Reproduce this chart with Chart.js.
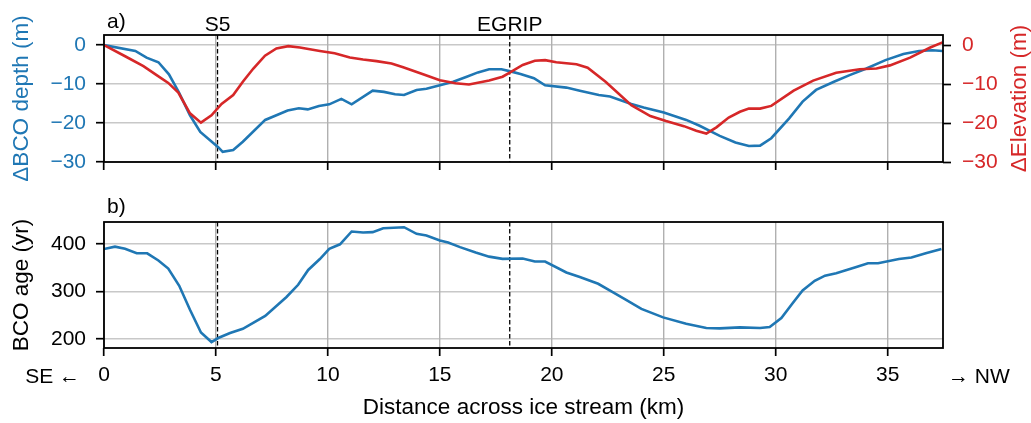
<!DOCTYPE html>
<html lang="en">
<head>
  <meta charset="UTF-8" />
  <title>BCO depth and age across the ice stream</title>
  <script src="https://cdn.jsdelivr.net/npm/chart.js"></script>
  <style>
    body {
      margin: 0;
      background: #fff;
    }
    .wrap {
      position: relative;
      width: 1031px;
      height: 423px;
    }
    canvas {
      position: absolute;
      left: 0;
    }
    #topChart { top: 0; }
    #bottomChart { top: 180px; }
  </style>
</head>
<body>
  <div class="wrap">
    <canvas id="topChart" width="1031" height="200"></canvas>
    <canvas id="bottomChart" width="1031" height="243"></canvas>
  </div>

  <script>
    // panel a) change in BCO depth (blue, left axis) and surface elevation (red, right axis)
    const depthKm = [0, 1.4, 1.9, 2.43, 2.9, 3.35, 3.84, 4.3, 5.1, 5.3, 5.77, 6.2, 7.2, 7.7, 8.2, 8.7, 9.1, 9.6, 10.06, 10.6, 11.06, 12.0, 12.5, 13.0, 13.4, 13.96, 14.4, 15.0, 15.6, 16.2, 16.7, 17.2, 17.75, 18.2, 18.6, 19.2, 19.7, 20.65, 21.25, 22.1, 22.6, 23.55, 24.1, 25.0, 26.0, 26.6, 27.5, 28.2, 28.8, 29.3, 29.8, 30.6, 31.2, 31.8, 32.6, 33.3, 34.05, 34.9, 35.7, 36.4, 37.0, 37.45];
    const dBcoDepth = [0, -1.5, -3.2, -4.4, -7.5, -12.2, -18, -22.3, -26.2, -27.4, -26.9, -24.8, -19.2, -18, -16.8, -16.2, -16.5, -15.6, -15.2, -13.8, -15.2, -11.7, -12, -12.6, -12.8, -11.5, -11.2, -10.3, -9.4, -8.1, -7, -6.2, -6.2, -6.8, -7.4, -8.5, -10.3, -10.9, -11.7, -12.8, -13.2, -15.1, -16, -17.3, -19.2, -20.7, -23.3, -25, -25.9, -25.8, -23.9, -18.8, -14.5, -11.5, -9.4, -7.7, -6, -3.85, -2.3, -1.5, -1.3, -1.5];

    const elevKm = [0, 0.86, 1.76, 2.35, 2.87, 3.32, 3.84, 4.33, 4.8, 5.25, 5.77, 6.2, 6.67, 7.19, 7.7, 8.23, 8.75, 9.64, 10.3, 10.98, 11.57, 12.17, 12.84, 13.36, 14.25, 15.0, 15.7, 16.3, 17.2, 17.8, 18.1, 18.7, 19.24, 19.7, 20.2, 21.1, 21.6, 22.4, 23.55, 24.4, 25.1, 25.9, 26.45, 26.9, 27.35, 27.9, 28.4, 28.8, 29.3, 29.8, 30.8, 31.67, 32.7, 33.75, 34.5, 35.1, 36.0, 36.9, 37.45];
    const dElevation = [0, -2.6, -5.4, -7.7, -9.7, -12.2, -17.5, -19.9, -18, -15.1, -12.8, -9.4, -6, -2.7, -0.85, -0.26, -0.6, -1.5, -2.1, -3.2, -3.7, -4.1, -4.7, -5.7, -7.5, -9, -9.8, -10.1, -9.1, -8.1, -7.1, -5.1, -4, -3.85, -4.4, -4.9, -5.8, -9.4, -15.4, -18.2, -19.5, -20.8, -22, -22.7, -21.1, -18.6, -17.1, -16.3, -16.3, -15.6, -11.7, -9.1, -7.1, -6.2, -6, -5.2, -3.2, -0.6, 0.7];

    // panel b) BCO age
    const ageKm = [0, 0.49, 0.94, 1.46, 1.93, 2.43, 2.87, 3.36, 3.84, 4.33, 4.8, 5.1, 5.63, 6.2, 7.2, 8.15, 8.67, 9.12, 9.64, 10.06, 10.54, 11.06, 11.57, 12.0, 12.47, 13.4, 13.96, 14.4, 15.0, 15.37, 15.9, 16.6, 17.2, 17.8, 18.7, 19.24, 19.7, 20.65, 21.25, 22.07, 22.66, 23.26, 24.0, 24.97, 26.0, 26.9, 27.5, 28.4, 29.3, 29.73, 30.25, 30.77, 31.2, 31.74, 32.2, 32.7, 33.6, 34.12, 34.57, 35.5, 36.06, 36.7, 37.4];
    const bcoAge = [389, 394, 389.5, 380, 380, 365, 348, 311.6, 261, 213, 193, 201.5, 212, 221, 248, 288, 313.7, 345, 368, 389.5, 399, 426, 424, 424.6, 433, 435, 421, 417.5, 407, 402.8, 393, 381.8, 373, 368.4, 369, 362.7, 362.7, 339.6, 330, 315.8, 299.6, 283.6, 263, 245, 231.6, 222.5, 221.8, 224, 222.5, 224.6, 243.5, 276, 301.7, 322, 333, 338, 351, 359, 359, 368, 371, 380, 389];

    // drill sites marked with dashed lines
    const siteNames = ['S5', 'EGRIP'];
    const siteKm = [5.07, 18.12];

    const BLUE = '#1f77b4';
    const RED = '#d62728';
    const FONT = '"Liberation Sans", Arial, sans-serif';
    const LABEL_SIZE = 22.5;

    Chart.defaults.font.family = FONT;
    Chart.defaults.font.size = 21;
    Chart.defaults.color = '#000';

    const pts = (xs, ys) => xs.map((x, i) => ({ x, y: ys[i] }));
    const minus = v => String(v).replace('-', '\u2212');

    function xAxis(showLabels, height) {
      return {
        type: 'linear',
        min: 0,
        max: 37.47,
        ticks: { stepSize: 5, includeBounds: false, display: showLabels, padding: 7, maxRotation: 0, autoSkip: false },
        grid: { color: '#b0b0b0', lineWidth: 1.4, tickColor: '#000', tickWidth: 1.7, tickLength: 8 },
        border: { display: false },
        afterFit: s => { s.height = height; }
      };
    }

    function dashedSites(chart) {
      const { ctx, chartArea: a, scales: { x } } = chart;
      ctx.save();
      ctx.strokeStyle = '#000';
      ctx.lineWidth = 1.3;
      ctx.setLineDash([4.5, 2.5]);
      siteKm.forEach(k => {
        const px = x.getPixelForValue(k);
        ctx.beginPath();
        ctx.moveTo(px, a.top);
        ctx.lineTo(px, a.bottom);
        ctx.stroke();
      });
      ctx.restore();
    }

    function frame(chart) {
      const { ctx, chartArea: a } = chart;
      ctx.save();
      ctx.strokeStyle = '#000';
      ctx.lineWidth = 1.8;
      ctx.strokeRect(a.left, a.top, a.right - a.left, a.bottom - a.top);
      ctx.restore();
    }

    const topDecor = {
      id: 'topDecor',
      beforeDatasetsDraw: dashedSites,
      afterDraw(chart) {
        frame(chart);
        const { ctx, chartArea: a, scales: { x } } = chart;
        ctx.save();
        ctx.font = '21px ' + FONT;
        ctx.fillStyle = '#000';
        ctx.textAlign = 'left';
        ctx.fillText('a)', a.left + 3, 28);
        ctx.textAlign = 'center';
        siteNames.forEach((n, i) => ctx.fillText(n, x.getPixelForValue(siteKm[i]), 31));
        // right axis label reads bottom to top
        ctx.font = LABEL_SIZE + 'px ' + FONT;
        ctx.fillStyle = RED;
        ctx.textBaseline = 'middle';
        ctx.translate(1020, (a.top + a.bottom) / 2);
        ctx.rotate(-Math.PI / 2);
        ctx.fillText('\u0394Elevation (m)', 0, 0);
        ctx.restore();
      }
    };

    const bottomDecor = {
      id: 'bottomDecor',
      beforeDatasetsDraw: dashedSites,
      afterDraw(chart) {
        frame(chart);
        const { ctx, chartArea: a } = chart;
        ctx.save();
        ctx.font = '21px ' + FONT;
        ctx.fillStyle = '#000';
        ctx.textAlign = 'left';
        ctx.fillText('b)', a.left + 3, 33);
        ctx.textAlign = 'right';
        ctx.fillText('SE \u2190', 80, 203);
        ctx.textAlign = 'left';
        ctx.fillText('\u2192 NW', 948, 203);
        ctx.restore();
      }
    };

    new Chart(document.getElementById('topChart'), {
      type: 'line',
      data: {
        datasets: [
          {
            label: '\u0394Elevation',
            data: pts(elevKm, dElevation),
            yAxisID: 'yR',
            borderColor: RED,
            borderWidth: 2.6,
            pointRadius: 0,
            order: 0
          },
          {
            label: '\u0394BCO depth',
            data: pts(depthKm, dBcoDepth),
            yAxisID: 'y',
            borderColor: BLUE,
            borderWidth: 2.6,
            pointRadius: 0,
            order: 1
          }
        ]
      },
      options: {
        responsive: false,
        animation: false,
        layout: { padding: { top: 35, left: 0, right: 0, bottom: 0 } },
        plugins: { legend: { display: false }, tooltip: { enabled: false } },
        scales: {
          x: xAxis(false, 38),
          y: {
            position: 'left',
            min: -30,
            max: 2.6,
            ticks: { stepSize: 10, includeBounds: false, color: BLUE, padding: 10, callback: minus },
            grid: { color: 'rgba(176,176,176,0.7)', lineWidth: 1.4, tickColor: '#000', tickWidth: 1.7, tickLength: 8 },
            border: { display: false },
            title: { display: true, text: '\u0394BCO depth (m)', color: BLUE, font: { size: LABEL_SIZE }, padding: { top: 8.5, bottom: 0 } },
            afterFit: s => { s.width = 104; }
          },
          yR: {
            position: 'right',
            min: -30,
            max: 2.6,
            ticks: { stepSize: 10, includeBounds: false, color: RED, padding: 11, callback: minus },
            grid: { drawOnChartArea: false, tickColor: '#000', tickWidth: 1.7, tickLength: 8 },
            border: { display: false },
            afterFit: s => { s.width = 88; }
          }
        }
      },
      plugins: [topDecor]
    });

    new Chart(document.getElementById('bottomChart'), {
      type: 'line',
      data: {
        datasets: [
          {
            label: 'BCO age',
            data: pts(ageKm, bcoAge),
            borderColor: BLUE,
            borderWidth: 2.6,
            pointRadius: 0
          }
        ]
      },
      options: {
        responsive: false,
        animation: false,
        layout: { padding: { top: 42, left: 0, right: 88, bottom: 0 } },
        plugins: { legend: { display: false }, tooltip: { enabled: false } },
        scales: {
          x: Object.assign(xAxis(true, 75), {
            title: { display: true, text: 'Distance across ice stream (km)', font: { size: LABEL_SIZE }, padding: { top: 0, bottom: 2 } }
          }),
          y: {
            position: 'left',
            min: 180.5,
            max: 446,
            ticks: { stepSize: 100, includeBounds: false, padding: 10 },
            grid: { color: 'rgba(176,176,176,0.7)', lineWidth: 1.4, tickColor: '#000', tickWidth: 1.7, tickLength: 8 },
            border: { display: false },
            title: { display: true, text: 'BCO age (yr)', font: { size: LABEL_SIZE }, padding: { top: 8.5, bottom: 0 } },
            afterFit: s => { s.width = 104; }
          }
        }
      },
      plugins: [bottomDecor]
    });
  </script>
</body>
</html>
